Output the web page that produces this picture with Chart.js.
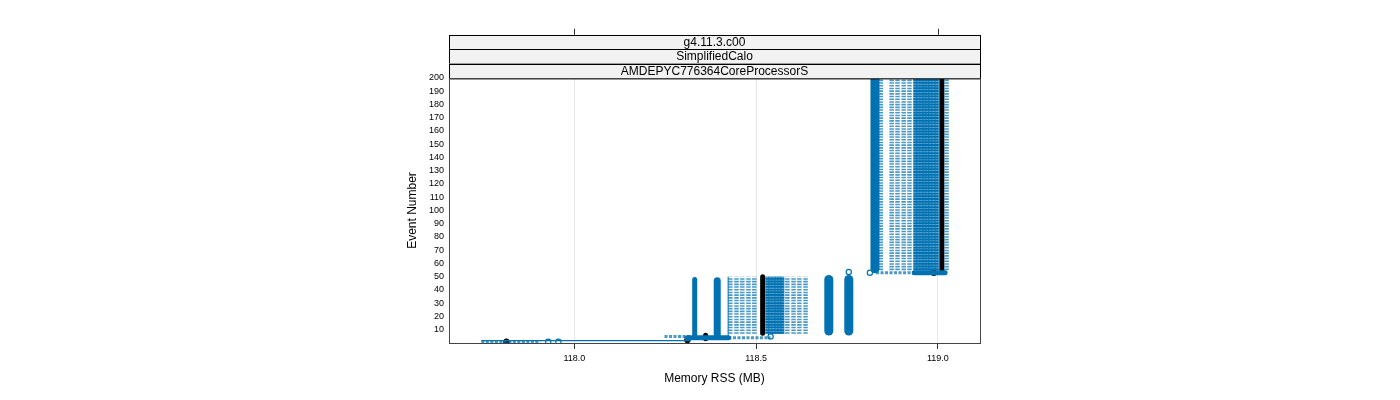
<!DOCTYPE html>
<html>
<head>
<meta charset="utf-8">
<script src="https://cdn.jsdelivr.net/npm/chart.js@4.4.1/dist/chart.umd.min.js"></script>
<style>
  body { margin: 0; background: #fff; }
  canvas { display: block; }
</style>
</head>
<body>
<canvas id="memChart" width="1400" height="400"></canvas>
<script>
// strip labels, top to bottom
const stripLabels = ['g4.11.3.c00', 'SimplifiedCalo', 'AMDEPYC776364CoreProcessorS'];

const xTicks = [118.0, 118.5, 119.0];
const xTopTicks = [118.0, 119.0];
const yTicks = [10, 20, 30, 40, 50, 60, 70, 80, 90, 100, 110, 120, 130, 140, 150, 160, 170, 180, 190, 200];

// vertical runs: [memory MB, first event, last event]
const lightCols = [
  [118.429, 7, 50], [118.446, 7, 50], [118.462, 7, 50], [118.479, 7, 50], [118.495, 7, 50],
  [118.586, 7, 50], [118.603, 7, 50], [118.619, 7, 50], [118.636, 7, 50],
  [118.843, 55, 200], [118.873, 55, 200], [118.889, 55, 200], [118.906, 55, 200], [118.922, 55, 200],
  [119.024, 55, 200]
];
const denseCols = [
  [118.531, 7, 50], [118.539, 7, 50], [118.548, 7, 50], [118.556, 7, 50], [118.564, 7, 50], [118.572, 7, 50],
  [118.938, 55, 200], [118.946, 55, 200], [118.955, 55, 200], [118.963, 55, 200],
  [118.971, 55, 200], [118.979, 55, 200], [118.988, 55, 200], [118.997, 55, 200]
];
const hairCols = [[118.423, 5, 50]];
const narrowCols = [[118.331, 5, 48]];
const mediumCols = [[118.393, 5, 47]];
const wideCols = [[118.700, 9, 48], [118.755, 9, 48], [118.827, 56, 200]];
const blackCols = [[118.361, 3.2, 5.8], [118.518, 7.4, 50], [119.011, 54.5, 200]];

// horizontal runs: [event, memory from, memory to]
const lightRows = [[1, 117.744, 117.906], [5, 118.248, 118.320], [4, 118.424, 118.540], [53, 118.830, 118.935]];
const hairRows = [[1.8, 117.744, 118.320]];
const thickRows = [[4, 118.310, 118.424], [53, 118.935, 119.020]];

// single points: [memory MB, event]
const openPoints = [[117.928, 1], [117.956, 1], [118.755, 53.6], [118.813, 53], [118.540, 5]];
const blackPoints = [[117.813, 1], [118.311, 2.2], [118.989, 53]];

const BLUE = '#0072B2';
const LIGHT = 'rgba(0,114,178,0.72)';
const FONT = "'Liberation Sans', Arial, sans-serif";

function colSets(cols, color, width, dash, cap) {
  return cols.map(c => ({
    data: [{ x: c[0], y: c[1] }, { x: c[0], y: c[2] }],
    showLine: true, borderColor: color, borderWidth: width,
    borderDash: dash, borderCapStyle: cap, pointRadius: 0, clip: 0
  }));
}

function rowSets(rows, color, width, dash, cap) {
  return rows.map(r => ({
    data: [{ x: r[1], y: r[0] }, { x: r[2], y: r[0] }],
    showLine: true, borderColor: color, borderWidth: width,
    borderDash: dash, borderCapStyle: cap, pointRadius: 0, clip: 0
  }));
}

const datasets = [].concat(
  colSets(lightCols, LIGHT, 4.5, [1.6, 1.1], 'butt'),
  colSets(denseCols, 'rgba(0,114,178,0.55)', 4, [], 'butt'),
  colSets(denseCols, BLUE, 4, [1.9, 0.8], 'butt'),
  rowSets(lightRows, LIGHT, 3, [3, 1.5], 'butt'),
  rowSets(hairRows, BLUE, 1.2, [], 'butt'),
  rowSets(thickRows, BLUE, 5, [], 'round'),
  colSets(hairCols, BLUE, 1, [], 'butt'),
  colSets(narrowCols, BLUE, 5, [], 'round'),
  colSets(mediumCols, BLUE, 7, [], 'round'),
  colSets(wideCols, BLUE, 9, [], 'round'),
  colSets(blackCols, '#000', 5, [], 'round'),
  [{
    data: openPoints.map(p => ({ x: p[0], y: p[1] })),
    pointStyle: 'circle', pointRadius: 2.6, pointBorderWidth: 1.2,
    pointBorderColor: BLUE, pointBackgroundColor: 'rgba(255,255,255,0)', showLine: false, clip: 0
  }, {
    data: blackPoints.map(p => ({ x: p[0], y: p[1] })),
    pointStyle: 'circle', pointRadius: 2.8, pointBorderWidth: 1,
    pointBorderColor: '#000', pointBackgroundColor: '#000', showLine: false, clip: 0
  }]
);

// strips, panel frame and the top-axis ticks
const latticeFrame = {
  id: 'latticeFrame',
  afterDatasetsDraw(chart) {
    const { ctx, chartArea: a, scales: { x } } = chart;
    const h = 14.4;
    ctx.save();
    ctx.lineWidth = 1;
    stripLabels.forEach((t, i) => {
      const top = a.top - (stripLabels.length - i) * h;
      ctx.fillStyle = '#f2f2f2';
      ctx.fillRect(a.left, top, a.right - a.left, h);
      ctx.strokeStyle = '#000';
      ctx.strokeRect(a.left + 0.5, Math.round(top) + 0.5, a.right - a.left, h);
      ctx.fillStyle = '#000';
      ctx.font = '12px ' + FONT;
      ctx.textAlign = 'center';
      ctx.textBaseline = 'middle';
      ctx.fillText(t, (a.left + a.right) / 2, top + h / 2 + 0.5);
    });
    const stripTop = a.top - stripLabels.length * h;
    ctx.strokeStyle = '#333';
    xTopTicks.forEach(v => {
      const px = Math.round(x.getPixelForValue(v)) + 0.5;
      ctx.beginPath();
      ctx.moveTo(px, stripTop);
      ctx.lineTo(px, stripTop - 6);
      ctx.stroke();
    });
    ctx.strokeStyle = '#444';
    ctx.strokeRect(a.left + 0.5, a.top + 0.5, a.right - a.left, a.bottom - a.top);
    ctx.restore();
  }
};

new Chart(document.getElementById('memChart'), {
  type: 'scatter',
  data: { datasets: datasets },
  plugins: [latticeFrame],
  options: {
    responsive: false,
    animation: false,
    layout: { padding: { left: 400, right: 420, top: 78, bottom: 0 } },
    plugins: { legend: { display: false }, tooltip: { enabled: false } },
    scales: {
      x: {
        type: 'linear', min: 117.655, max: 119.116,
        afterBuildTicks: s => { s.ticks = xTicks.map(v => ({ value: v })); },
        afterFit: s => { s.height = 57; },
        ticks: {
          callback: v => Number(v).toFixed(1), color: '#000', padding: 4,
          font: { size: 9, family: FONT }, maxRotation: 0, autoSkip: false
        },
        grid: { color: '#e6e6e6', tickColor: '#333', tickLength: 6, lineWidth: 1 },
        border: { display: false },
        title: {
          display: true, text: 'Memory RSS (MB)', color: '#000',
          font: { size: 12, family: FONT }, padding: { top: 4, bottom: 14 }
        }
      },
      y: {
        type: 'linear', min: 0, max: 200,
        afterBuildTicks: s => { s.ticks = yTicks.map(v => ({ value: v })); },
        afterFit: s => { s.width = 49; },
        ticks: { color: '#000', padding: 5, font: { size: 9, family: FONT }, autoSkip: false },
        grid: { display: false, drawTicks: false },
        border: { display: false },
        title: {
          display: true, text: 'Event Number', color: '#000',
          font: { size: 12, family: FONT }, padding: { top: 5, bottom: 0 }
        }
      }
    }
  }
});
</script>
</body>
</html>
